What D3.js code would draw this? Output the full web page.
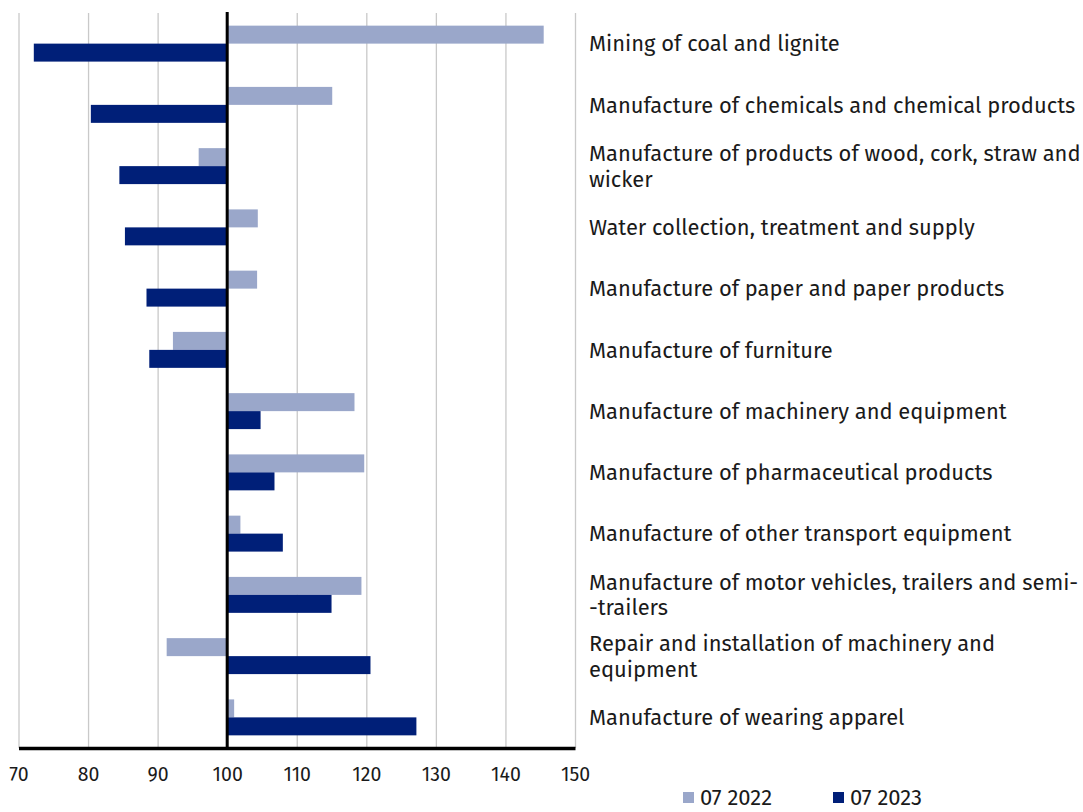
<!DOCTYPE html>
<html>
<head>
<meta charset="utf-8">
<script src="https://cdn.jsdelivr.net/npm/d3@7"></script>
<style>
  body { margin: 0; background: #fff; }
  svg text { font-family: "Fira Sans", "Noto Sans", sans-serif; fill: #1a1a1a; }
</style>
</head>
<body>
<div id="bar_chart"></div>
<script>
// categories (top to bottom), "\n" marks where the label wraps
let categories = [
    "Mining of coal and lignite",
    "Manufacture of chemicals and chemical products",
    "Manufacture of products of wood, cork, straw and\nwicker",
    "Water collection, treatment and supply",
    "Manufacture of paper and paper products",
    "Manufacture of furniture",
    "Manufacture of machinery and equipment",
    "Manufacture of pharmaceutical products",
    "Manufacture of other transport equipment",
    "Manufacture of motor vehicles, trailers and semi-\n-trailers",
    "Repair and installation of machinery and\nequipment",
    "Manufacture of wearing apparel"
];

let series = ["07 2022", "07 2023"];
let values2022 = [145.5, 115.1, 95.9, 104.4, 104.3, 92.2, 118.3, 119.7, 101.9, 119.3, 91.3, 101.0];
let values2023 = [72.2, 80.4, 84.5, 85.3, 88.4, 88.8, 104.8, 106.8, 108.0, 115.0, 120.6, 127.2];
let xTicks = [70, 80, 90, 100, 110, 120, 130, 140, 150];
let colors = ["#9aa7ca", "#001f78"];

let config = {
    svg: { width: 1083, height: 812 },
    plot: { x: 18.5, y: 13, width: 556.5, height: 735 },
    baseline: 100
};

let svg = d3.select("#bar_chart")
    .append("svg")
        .attr("width", config.svg.width)
        .attr("height", config.svg.height);

let plot = svg.append("g")
        .attr("id", "plot")
        .attr("transform", translate(config.plot.x, config.plot.y));

let x = d3.scaleLinear()
    .domain([d3.min(xTicks), d3.max(xTicks)])
    .range([0, config.plot.width]);

let y = d3.scaleBand()
    .domain(categories)
    .range([0, config.plot.height])
    .paddingInner(0.413)
    .paddingOuter(0.2065);

let ySeries = d3.scaleBand()
    .domain(series)
    .range([0, y.bandwidth()]);

// grid lines
plot.append("g")
    .attr("class", "grid")
    .attr("transform", translate(0, config.plot.height))
    .call(d3.axisBottom(x).tickValues(xTicks).tickSize(-config.plot.height).tickFormat(""))
    .call(g => g.select(".domain").remove())
    .call(g => g.selectAll("line").attr("stroke", "#c9c9c9").attr("stroke-width", 1.3));

// bars
let rows = categories.map((c, i) => ({ cat: c, vals: [values2022[i], values2023[i]] }));

let groups = plot.selectAll(".cat")
    .data(rows)
    .enter()
    .append("g")
        .attr("class", "cat")
        .attr("transform", d => translate(0, y(d.cat)));

groups.selectAll("rect")
    .data(d => d.vals.map((v, j) => ({ s: series[j], v: v, j: j })))
    .enter()
    .append("rect")
        .attr("x", d => x(Math.min(d.v, config.baseline)))
        .attr("y", d => ySeries(d.s))
        .attr("width", d => Math.abs(x(d.v) - x(config.baseline)))
        .attr("height", ySeries.bandwidth())
        .style("fill", d => colors[d.j]);

// baseline at 100
plot.append("line")
    .attr("x1", x(config.baseline)).attr("x2", x(config.baseline))
    .attr("y1", -1).attr("y2", config.plot.height)
    .attr("stroke", "#000").attr("stroke-width", 3);

// x axis
let xAxis = plot.append("g")
    .attr("class", "axis axis--x")
    .attr("transform", translate(0, config.plot.height))
    .call(d3.axisBottom(x).tickValues(xTicks).tickSize(0).tickPadding(19));

xAxis.select(".domain").attr("stroke", "#000").attr("stroke-width", 3.5);
xAxis.selectAll("text")
    .style("font-size", "19.5px")
    .style("font-family", "'Fira Sans', 'Noto Sans', sans-serif")
    .attr("fill", "#1a1a1a");

// category labels on the right
let labels = plot.append("g").attr("class", "labels");
let lineH = 25.5;
let labelX = 589 - config.plot.x;
rows.forEach(d => {
    let lines = d.cat.split("\n");
    let cy = y(d.cat) + y.bandwidth() / 2;
    let t = labels.append("text")
        .attr("x", labelX)
        .attr("y", cy - (lines.length - 1) * lineH / 2)
        .style("font-size", "21.9px");
    lines.forEach((l, k) => {
        t.append("tspan")
            .attr("x", labelX)
            .attr("dy", k === 0 ? "0.35em" : lineH)
            .text(l);
    });
});

// legend (sits at the very bottom edge, as in the original)
let legend = svg.append("g").attr("class", "legend");
let legendX = [683, 833];
series.forEach((s, i) => {
    legend.append("rect")
        .attr("x", legendX[i]).attr("y", 792)
        .attr("width", 11).attr("height", 11)
        .style("fill", colors[i]);
    legend.append("text")
        .attr("x", legendX[i] + 17).attr("y", 805)
        .style("font-size", "22px")
        .text(s);
});

// helper method to make translating easier
function translate(x, y) {
    return 'translate(' + x + ',' + y + ')';
}
</script>
</body>
</html>
